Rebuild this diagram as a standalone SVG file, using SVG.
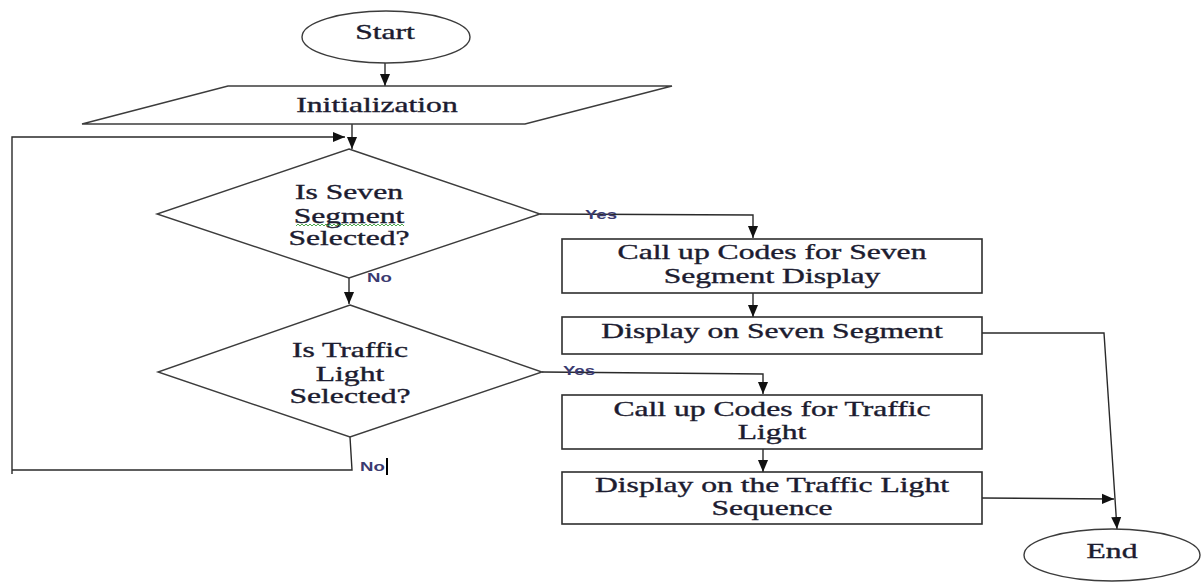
<svg xmlns="http://www.w3.org/2000/svg" width="1203" height="583" viewBox="0 0 1203 583">
  <style>
    .shape { fill: #ffffff; stroke: #3c3c3c; stroke-width: 1.4; }
    .box { fill: #ffffff; stroke: #2e2e2e; stroke-width: 1.6; }
    .line { fill: none; stroke: #2a2a2a; stroke-width: 1.4; }
    .t { font-family: "Liberation Serif", "Times New Roman", serif; font-size: 20px; fill: #1c1c30; stroke: #1c1c30; stroke-width: 0.35; text-anchor: middle; }
    .lbl { font-family: "Liberation Sans", Arial, sans-serif; font-size: 12px; font-weight: bold; fill: #3a3a70; }
  </style>
  <defs>
    <marker id="arrow" markerUnits="userSpaceOnUse" markerWidth="12" markerHeight="12" viewBox="0 0 10 10" refX="10" refY="5" orient="auto">
      <path d="M0,0.8 L10,5 L0,9.2 Z" fill="#111111"/>
    </marker>
  </defs>

  <!-- connectors -->
  <g id="connectors">
    <path class="line" d="M385,63 L385,86" marker-end="url(#arrow)"/>
    <path class="line" d="M352,124 L352,149" marker-end="url(#arrow)"/>
    <path class="line" d="M12,474 L12,137 L345,137" marker-end="url(#arrow)"/>
    <path class="line" d="M349,278 L349,304" marker-end="url(#arrow)"/>
    <path class="line" d="M540,214 L753,215 L753,238" marker-end="url(#arrow)"/>
    <path class="line" d="M753,293 L753,317" marker-end="url(#arrow)"/>
    <path class="line" d="M542,372 L763,374 L763,394" marker-end="url(#arrow)"/>
    <path class="line" d="M763,449 L763,472" marker-end="url(#arrow)"/>
    <path class="line" d="M350,437 L352,470 L12,470"/>
    <path class="line" d="M982,333 L1104,333 L1117,529" marker-end="url(#arrow)"/>
    <path class="line" d="M982,498 L1114,499" marker-end="url(#arrow)"/>
    <text class="lbl" transform="translate(585 219) scale(1.55 1)">Yes</text>
    <text class="lbl" transform="translate(563 375) scale(1.55 1)">Yes</text>
    <text class="lbl" transform="translate(367 282) scale(1.55 1)">No</text>
    <text class="lbl" transform="translate(360 471) scale(1.55 1)">No</text>
    <rect x="386" y="458" width="2" height="17" fill="#000000"/>
  </g>

  <g id="start">
    <ellipse class="shape" cx="386" cy="37" rx="84" ry="26"/>
    <text class="t" transform="translate(385 39) scale(1.58 1)">Start</text>
  </g>

  <g id="init">
    <polygon class="shape" points="228,86 672,86 525,124 82,124"/>
    <text class="t" transform="translate(377 112) scale(1.58 1)">Initialization</text>
  </g>

  <g id="seven-check">
    <polygon class="shape" points="349,149 540,214 349,278 157,214"/>
    <text class="t" transform="translate(349 199) scale(1.58 1)">Is Seven</text>
    <text class="t" transform="translate(349 223) scale(1.58 1)">Segment</text>
    <polyline fill="none" stroke="#3aa03a" stroke-width="0.9" points="296,226 298,224 300,226 302,224 304,226 306,224 308,226 310,224 312,226 314,224 316,226 318,224 320,226 322,224 324,226 326,224 328,226 330,224 332,226 334,224 336,226 338,224 340,226 342,224 344,226 346,224 348,226 350,224 352,226 354,224 356,226 358,224 360,226 362,224 364,226 366,224 368,226 370,224 372,226 374,224 376,226 378,224 380,226 382,224 384,226 386,224 388,226 390,224 392,226 394,224 396,226 398,224 400,226 402,224 404,226"/>
    <text class="t" transform="translate(349 245) scale(1.58 1)">Selected?</text>
  </g>

  <g id="traffic-check">
    <polygon class="shape" points="350,305 542,372 350,437 158,372"/>
    <text class="t" transform="translate(350 357) scale(1.58 1)">Is Traffic</text>
    <text class="t" transform="translate(350 381) scale(1.58 1)">Light</text>
    <text class="t" transform="translate(350 403) scale(1.58 1)">Selected?</text>
  </g>

  <g id="seven-codes">
    <rect class="box" x="562" y="239" width="420" height="54"/>
    <text class="t" transform="translate(772 259) scale(1.58 1)">Call up Codes for Seven</text>
    <text class="t" transform="translate(772 283) scale(1.58 1)">Segment Display</text>
  </g>

  <g id="seven-display">
    <rect class="box" x="562" y="317" width="420" height="37"/>
    <text class="t" transform="translate(772 338) scale(1.58 1)">Display on Seven Segment</text>
  </g>

  <g id="traffic-codes">
    <rect class="box" x="562" y="395" width="420" height="54"/>
    <text class="t" transform="translate(772 416) scale(1.58 1)">Call up Codes for Traffic</text>
    <text class="t" transform="translate(772 439) scale(1.58 1)">Light</text>
  </g>

  <g id="traffic-display">
    <rect class="box" x="562" y="472" width="420" height="52"/>
    <text class="t" transform="translate(772 492) scale(1.58 1)">Display on the Traffic Light</text>
    <text class="t" transform="translate(772 515) scale(1.58 1)">Sequence</text>
  </g>

  <g id="end">
    <ellipse class="shape" cx="1112" cy="555" rx="88" ry="26"/>
    <text class="t" transform="translate(1112 558) scale(1.58 1)">End</text>
  </g>
</svg>
